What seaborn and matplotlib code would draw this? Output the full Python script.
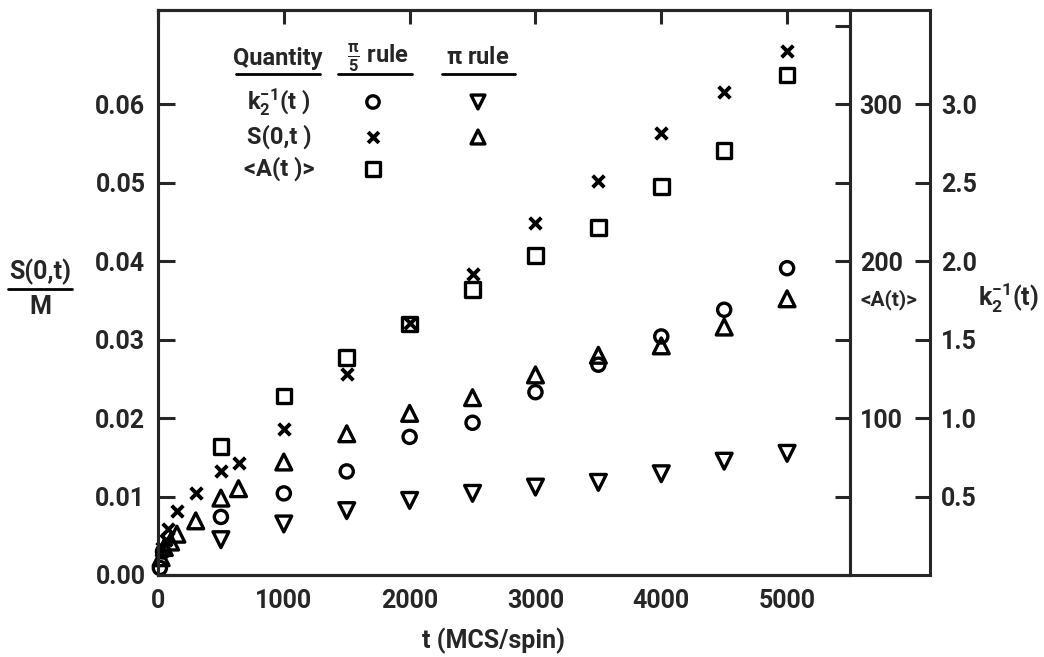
import numpy as np
import pandas as pd
import matplotlib
matplotlib.use("Agg")
import matplotlib.pyplot as plt
import matplotlib.ticker as mticker
from matplotlib.lines import Line2D
import seaborn as sns

# ---------------- data (in S(0,t)/M units) -------------
# k2^-1(t), pi/5 rule  (open circles)
t_k_pi5 = [15, 40, 500, 1000, 1500, 2000, 2500, 3000, 3500, 4000, 4500, 5000]
v_k_pi5 = [0.0009, 0.0030, 0.0074, 0.0104, 0.0132, 0.0176, 0.0194, 0.0233,
           0.0268, 0.0304, 0.0338, 0.0391]
# S(0,t), pi/5 rule  (x)
t_s_pi5 = [30, 60, 80, 150, 300, 500, 640, 1000, 1500, 2000, 2500, 3000,
           3500, 4000, 4500, 5000]
v_s_pi5 = [0.0035, 0.0045, 0.0058, 0.0082, 0.0105, 0.0132, 0.0143, 0.0186,
           0.0256, 0.0321, 0.0384, 0.0448, 0.0502, 0.0563, 0.0615, 0.0668]
# <A(t)>, pi/5 rule  (open squares)
t_a_pi5 = [500, 1000, 1500, 2000, 2500, 3000, 3500, 4000, 4500, 5000]
v_a_pi5 = [0.0164, 0.0228, 0.0277, 0.0320, 0.0364, 0.0407, 0.0443, 0.0495,
           0.0541, 0.0637]
# k2^-1(t), pi rule  (down triangles)
t_k_pi = [500, 1000, 1500, 2000, 2500, 3000, 3500, 4000, 4500, 5000]
v_k_pi = [0.0045, 0.0065, 0.0082, 0.0095, 0.0104, 0.0112, 0.0118, 0.0129,
          0.0145, 0.0155]
# S(0,t), pi rule  (up triangles)
t_s_pi = [25, 50, 100, 150, 300, 500, 640, 1000, 1500, 2000, 2500, 3000,
          3500, 4000, 4500, 5000]
v_s_pi = [0.0022, 0.0035, 0.0042, 0.0052, 0.0069, 0.0098, 0.0110, 0.0144,
          0.0180, 0.0206, 0.0226, 0.0255, 0.0280, 0.0292, 0.0316, 0.0352]

x_ticks = [0, 1000, 2000, 3000, 4000, 5000]
y_ticks = [0.00, 0.01, 0.02, 0.03, 0.04, 0.05, 0.06]
a_ticks = [50, 100, 150, 200, 250, 300, 350]
k_ticks = [0.5, 1.0, 1.5, 2.0, 2.5, 3.0]

# ---------------- style -------------------------------------------------------
sns.set_style("white")
plt.rcParams["font.family"] = ["Roboto", "DejaVu Sans"]
plt.rcParams["font.weight"] = "bold"
plt.rcParams["mathtext.fontset"] = "custom"
plt.rcParams["mathtext.rm"] = "Roboto:bold"
plt.rcParams["mathtext.it"] = "Roboto:bold"
plt.rcParams["mathtext.bf"] = "Roboto:bold"

W, H = 1044, 657
fig = plt.figure(figsize=(W / 100, H / 100), dpi=100)

L, R_in, R_out, T, B = 158, 850, 930, 10, 575
YMAX = 0.0720
XMAX = 5500

def frac(x0, x1):
    return [x0 / W, 1 - B / H, (x1 - x0) / W, (B - T) / H]

LW = 2.2
TICKFS = 18

# outer frame axes (k2^-1 scale)
ax3 = fig.add_axes(frac(L, R_out))
ax3.set_xlim(0, 1)
ax3.set_ylim(0, YMAX * 50)
ax3.set_xticks([])
ax3.yaxis.tick_right()
ax3.set_yticks(k_ticks)
ax3.set_yticklabels([f"{k:.1f}" for k in k_ticks])
ax3.tick_params(axis="y", direction="in", length=11, width=LW, pad=8,
                labelsize=TICKFS, right=True, left=False)
ax3.spines["left"].set_visible(False)
for s in ["top", "bottom", "right"]:
    ax3.spines[s].set_linewidth(LW)

# main axes
ax = fig.add_axes(frac(L, R_in))
ax.set_zorder(ax3.get_zorder() + 1)
ax.patch.set_visible(False)

open_kw = dict(facecolor="none", edgecolor="black", linewidth=2.4, s=110,
               clip_on=False, zorder=3)
sns.scatterplot(x=t_a_pi5, y=v_a_pi5, marker="s", ax=ax, **open_kw)
sns.scatterplot(x=t_k_pi5, y=v_k_pi5, marker="o", ax=ax,
                **{**open_kw, "s": 90})
sns.scatterplot(x=t_k_pi, y=v_k_pi, marker="v", ax=ax,
                **{**open_kw, "s": 130})
sns.scatterplot(x=t_s_pi, y=v_s_pi, marker="^", ax=ax,
                **{**open_kw, "s": 130})
sns.scatterplot(x=t_s_pi5, y=v_s_pi5, marker="x", color="black",
                linewidth=2.8, s=70, ax=ax, clip_on=False, zorder=3)

ax.set_xlim(0, XMAX)
ax.set_ylim(0, YMAX)
ax.set_xticks(x_ticks)
ax.set_xticklabels([str(x) for x in x_ticks])
ax.xaxis.set_minor_locator(mticker.MultipleLocator(500))
ax.set_yticks(y_ticks)
ax.set_yticklabels([f"{y:.2f}" for y in y_ticks])
ax.tick_params(axis="both", which="both", direction="in", width=LW,
               labelsize=TICKFS)
ax.tick_params(axis="x", which="major", length=10, pad=10, top=True)
ax.tick_params(axis="x", which="minor", length=10, top=False)
ax.tick_params(axis="y", length=12, pad=9, right=False)
for s in ax.spines.values():
    s.set_linewidth(LW)
ax.set_xlabel("")
ax.set_ylabel("")

# <A(t)> scale on the inner line
ax2 = ax.twinx()
ax2.set_ylim(0, YMAX * 5000)
ax2.set_yticks(a_ticks)
ax2.set_yticklabels([str(a) if a % 100 == 0 else "" for a in a_ticks])
ax2.tick_params(axis="y", direction="in", length=11, width=LW, pad=7,
                labelsize=TICKFS)
for s in ax2.spines.values():
    s.set_linewidth(LW)

# axis titles
fig.text(493 / W, 1 - 641 / H, "t (MCS/spin)", ha="center", va="center",
         fontsize=18, fontweight="bold")
fig.text(40 / W, 1 - 272 / H, "S(0,t)", ha="center", va="center",
         fontsize=18, fontweight="bold")
fig.add_artist(Line2D([8 / W, 72 / W], [1 - 289 / H, 1 - 289 / H],
                      color="black", lw=2.0))
fig.text(40 / W, 1 - 307 / H, "M", ha="center", va="center",
         fontsize=18, fontweight="bold")
fig.text(889 / W, 1 - 300 / H, "<A(t)>", ha="center", va="center",
         fontsize=15, fontweight="bold")
fig.text(1008 / W, 1 - 298 / H, r"$\mathbf{k_2^{-1}}$(t)", ha="center",
         va="center", fontsize=18, fontweight="bold")

# legend table (axes-fraction coordinates)
def axf(px, py):
    return ((px - L) / (R_in - L), (B - py) / (B - T))

LEGFS = 17
hdr_y = 58
for label, cx, x0, x1 in [("Quantity", 278, 236, 320),
                          (r"$\frac{\pi}{5}$ rule", 378, 338, 412),
                          (r"$\pi$ rule", 478, 442, 515)]:
    ax.text(*axf(cx, hdr_y), label, transform=ax.transAxes, ha="center",
            va="center", fontsize=LEGFS, fontweight="bold")
    ax.add_line(Line2D([axf(x0, 0)[0], axf(x1, 0)[0]],
                       [axf(0, 74)[1], axf(0, 74)[1]],
                       transform=ax.transAxes, color="black", lw=2.0))

rows = [(r"$\mathbf{k_2^{-1}}$(t )", 102, "o", "v"),
        ("S(0,t )", 137, "x", "^"),
        ("<A(t )>", 169, "s", None)]
for label, py, m1, m2 in rows:
    ax.text(*axf(279, py), label, transform=ax.transAxes, ha="center",
            va="center", fontsize=LEGFS, fontweight="bold")
    for m, px in [(m1, 373), (m2, 478)]:
        if m is None:
            continue
        if m == "x":
            ax.scatter(*axf(px, py), transform=ax.transAxes, marker="x",
                       color="black", linewidths=2.8, s=60, zorder=3)
        else:
            ax.scatter(*axf(px, py), transform=ax.transAxes, marker=m,
                       facecolor="none", edgecolor="black", linewidths=2.4,
                       s=100 if m != "o" else 80, zorder=3)

fig.savefig("out.png", dpi=100, facecolor="white")
